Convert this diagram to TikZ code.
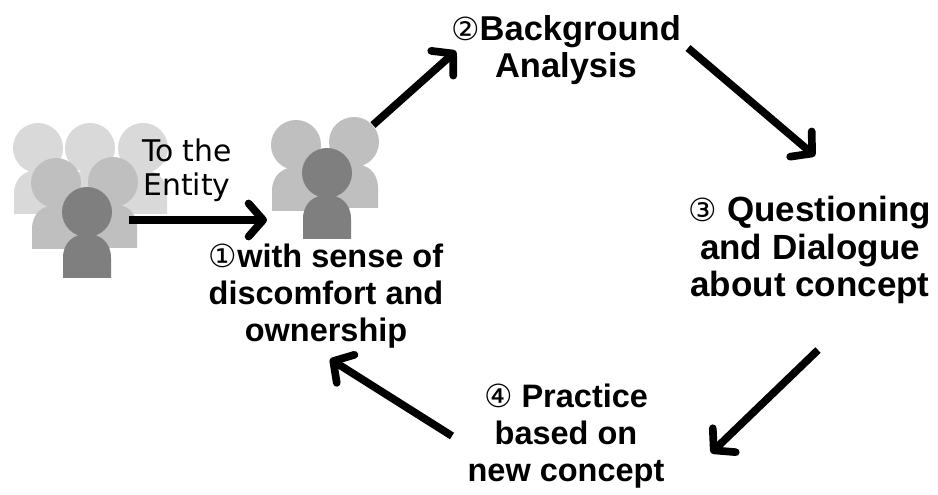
\documentclass[tikz,border=0pt]{standalone}
\usepackage{fontspec}
\setmainfont{Liberation Sans}
\newfontfamily\dv{DejaVu Sans}
\usetikzlibrary{arrows.meta}
\definecolor{gA}{HTML}{D9D9D9}
\definecolor{gB}{HTML}{BFBFBF}
\definecolor{gC}{HTML}{7F7F7F}
\newcommand{\cn}[1]{{\dv\mdseries\fontsize{24}{27}\selectfont #1}}
\tikzset{
 px/.style={x=0.0265cm,y=-0.0265cm},
 lbl/.style={font=\bfseries\fontsize{24.5}{28}\selectfont,align=center,inner sep=0pt,text=black},
 big lbl/.style={lbl,font=\bfseries\fontsize{26.4}{28.5}\selectfont},
 mid lbl/.style={lbl,font=\bfseries\fontsize{26}{28.5}\selectfont},
 thin lbl/.style={font=\dv\fontsize{22.5}{25.5}\selectfont,align=center,inner sep=0pt,text=black},
 arr/.style={line width=5.8pt,line cap=butt,-{Straight Barb[round,length=11pt,width=25pt,line width=5.8pt]}}
}
\newcommand{\person}[3]{%
 \fill[#3] (#1-24,#2+66) -- (#1-24,#2+46) .. controls (#1-24,#2+30) and (#1-13,#2+22) .. (#1,#2+22) .. controls (#1+13,#2+22) and (#1+24,#2+30) .. (#1+24,#2+46) -- (#1+24,#2+66) -- cycle;
 \fill[#3] (#1,#2) circle [radius=25];
}
\begin{document}
\begin{tikzpicture}[px]
\useasboundingbox (0,0) rectangle (938,495);
\fill[white] (0,0) rectangle (938,495);
\person{38}{148}{gA}\person{90}{148}{gA}\person{143}{148}{gA}
\person{56}{183}{gB}\person{113}{182}{gB}
\person{87}{212}{gC}
\person{296}{145}{gB}\person{354}{142}{gB}
\person{327}{173}{gC}
\coordinate (a0) at (129,220);
\coordinate (a1) at (267,220);
\coordinate (b0) at (373,125);
\coordinate (b1) at (456,51);
\coordinate (c0) at (688,48);
\coordinate (c1) at (815,156);
\coordinate (d0) at (818,350);
\coordinate (d1) at (711,453);
\coordinate (e0) at (452,436);
\coordinate (e1) at (330,359);
\draw[arr] (a0) -- (a1);
\draw[arr] (b0) -- (b1);
\draw[arr] (c0) -- (c1);
\draw[arr] (d0) -- (d1);
\draw[arr] (e0) -- (e1);
\node[thin lbl] (ent) at (187,170) {To the\\Entity};
\node[lbl] (n1) at (326,296) {\cn{①}with sense of\\discomfort and\\ownership};
\node[mid lbl] (n2) at (566,50) {\cn{②}Background\\Analysis};
\node[big lbl] (n3) at (810,250) {\cn{③} Questioning\\and Dialogue\\about concept};
\node[lbl] (n4) at (566,436) {\cn{④} Practice\\based on\\new concept};
\end{tikzpicture}
\end{document}
